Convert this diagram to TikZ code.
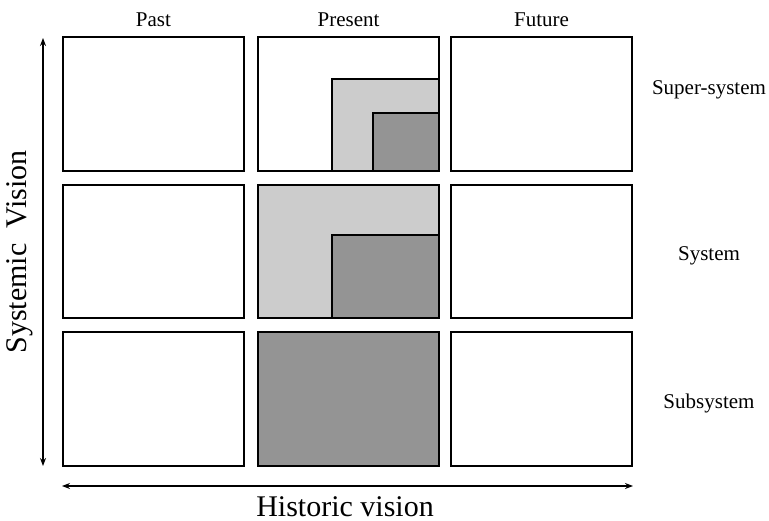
\documentclass[tikz,border=0pt]{standalone}
\usepackage{fontspec}
\setmainfont{Liberation Serif}
\usetikzlibrary{arrows.meta}
\definecolor{lighthatch}{gray}{0.80}
\definecolor{darkhatch}{gray}{0.58}
\tikzset{
  cell/.style={draw=black, line width=2pt, minimum width=181pt, minimum height=134pt, inner sep=0pt, outer sep=0pt},
  axis/.style={line width=1.6pt, {Stealth[length=8pt,width=6pt]}-{Stealth[length=8pt,width=6pt]}},
  lab/.style={font=\fontsize{21}{23}\selectfont, inner sep=0pt, anchor=base},
  biglab/.style={font=\fontsize{30}{33}\selectfont, inner sep=0pt}
}
\begin{document}
\begin{tikzpicture}[x=1pt, y=-1pt]
\useasboundingbox (0,0) rectangle (769,521);
% fills
\fill[lighthatch] (332,79) rectangle (439,171);
\fill[darkhatch] (373,113) rectangle (439,171);
\fill[lighthatch] (258,185) rectangle (439,318);
\fill[darkhatch] (332,235) rectangle (439,318);
\fill[darkhatch] (258,332) rectangle (439,466);
% inner outlines
\draw[line width=2pt] (332,171) -- (332,79) -- (439,79);
\draw[line width=2pt] (373,171) -- (373,113) -- (439,113);
\draw[line width=2pt] (332,318) -- (332,235) -- (439,235);
% cells
\node[cell] (c11) at (153.5,104) {};
\node[cell] (c12) at (348.5,104) {};
\node[cell] (c13) at (541.5,104) {};
\node[cell, minimum height=133pt] (c21) at (153.5,251.5) {};
\node[cell, minimum height=133pt] (c22) at (348.5,251.5) {};
\node[cell, minimum height=133pt] (c23) at (541.5,251.5) {};
\node[cell] (c31) at (153.5,399) {};
\node[cell] (c32) at (348.5,399) {};
\node[cell] (c33) at (541.5,399) {};
% column labels
\node[lab] (past) at (153.5,27) {Past};
\node[lab] (present) at (348.5,27) {Present};
\node[lab] (future) at (541.5,27) {Future};
% row labels
\node[lab] (super) at (709,95) {Super-system};
\node[lab] (system) at (709,261) {System};
\node[lab] (sub) at (709,409) {Subsystem};
% axes
\coordinate (vtop) at (43,38);
\coordinate (vbot) at (43,466);
\coordinate (hleft) at (62,486);
\coordinate (hright) at (633,486);
\draw[axis] (vtop) -- (vbot);
\draw[axis] (hleft) -- (hright);
\node[biglab, anchor=base, text depth=0pt] (hist) at (345,516) {Historic vision};
\node[biglab, rotate=90] (sysv) at (20,252) {Systemic\ \ Vision};
\end{tikzpicture}
\end{document}
